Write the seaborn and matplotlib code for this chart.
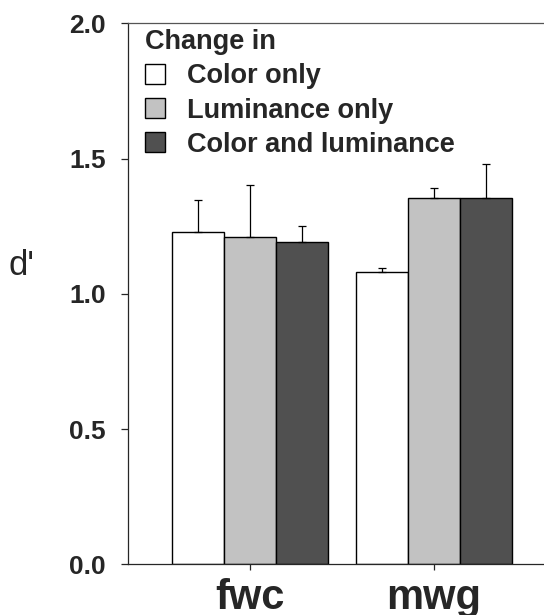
import matplotlib.pyplot as plt
import numpy as np
import pandas as pd
import seaborn as sns

observers = ["fwc", "mwg"]
conditions = ["Color only", "Luminance only", "Color and luminance"]
dprime = {
    "Color only": [1.23, 1.08],
    "Luminance only": [1.21, 1.355],
    "Color and luminance": [1.19, 1.355],
}
sem = {
    "Color only": [0.117, 0.015],
    "Luminance only": [0.191, 0.037],
    "Color and luminance": [0.060, 0.126],
}
bar_colors = ["#ffffff", "#c2c2c2", "#505050"]

df = pd.DataFrame(
    [(obs, cond, dprime[cond][i]) for cond in conditions for i, obs in enumerate(observers)],
    columns=["observer", "condition", "dprime"],
)

sns.set_style("ticks")
plt.rcParams["font.family"] = ["Liberation Sans", "DejaVu Sans"]

fig = plt.figure(figsize=(5.44, 6.15), dpi=100)
ax = fig.add_axes([0.2353, 0.0824, 0.7647, 0.8797])

sns.barplot(
    data=df,
    x="observer",
    y="dprime",
    hue="condition",
    order=observers,
    hue_order=conditions,
    palette=bar_colors,
    edgecolor="black",
    linewidth=1,
    width=0.85,
    errorbar=None,
    ax=ax,
)

# one-sided error bars on top of each bar
for cont, cond in zip(ax.containers, conditions):
    xs = [b.get_x() + b.get_width() / 2 for b in cont]
    ys = [b.get_height() for b in cont]
    err = np.array(sem[cond])
    ax.errorbar(xs, ys, yerr=[np.zeros_like(err), err], fmt="none",
                ecolor="black", elinewidth=0.9, capsize=3, capthick=0.9)

ax.set_xlim(-0.663, 1.598)
ax.set_ylim(0, 2.0)
ax.set_yticks([0.0, 0.5, 1.0, 1.5, 2.0])
ax.set_yticklabels(["0.0", "0.5", "1.0", "1.5", "2.0"])
ax.tick_params(axis="y", labelsize=19, length=5, width=0.9, pad=11)
ax.tick_params(axis="x", labelsize=30, length=4, width=0.9, pad=6)
for lab in ax.get_yticklabels() + ax.get_xticklabels():
    lab.set_fontweight("bold")

ax.set_xlabel("")
ax.set_ylabel("d'", fontsize=25, rotation=0, va="center", ha="center")
ax.yaxis.set_label_coords(-0.255, 0.553)

ax.spines["right"].set_visible(False)
ax.spines["top"].set_color("#555555")
for s in ["left", "bottom", "top"]:
    ax.spines[s].set_linewidth(0.9)

sns.move_legend(
    ax, "upper left",
    bbox_to_anchor=(0.04, 0.989),
    title="Change in",
    frameon=False,
    fontsize=19.5,
    title_fontproperties={"weight": "bold", "size": 19.5},
    alignment="left",
    handlelength=0.75,
    handleheight=0.75,
    handletextpad=0.8,
    labelspacing=0.3,
    borderpad=0,
    borderaxespad=0,
)
for txt in ax.get_legend().get_texts():
    txt.set_fontweight("bold")

fig.savefig("out.png", dpi=100)
